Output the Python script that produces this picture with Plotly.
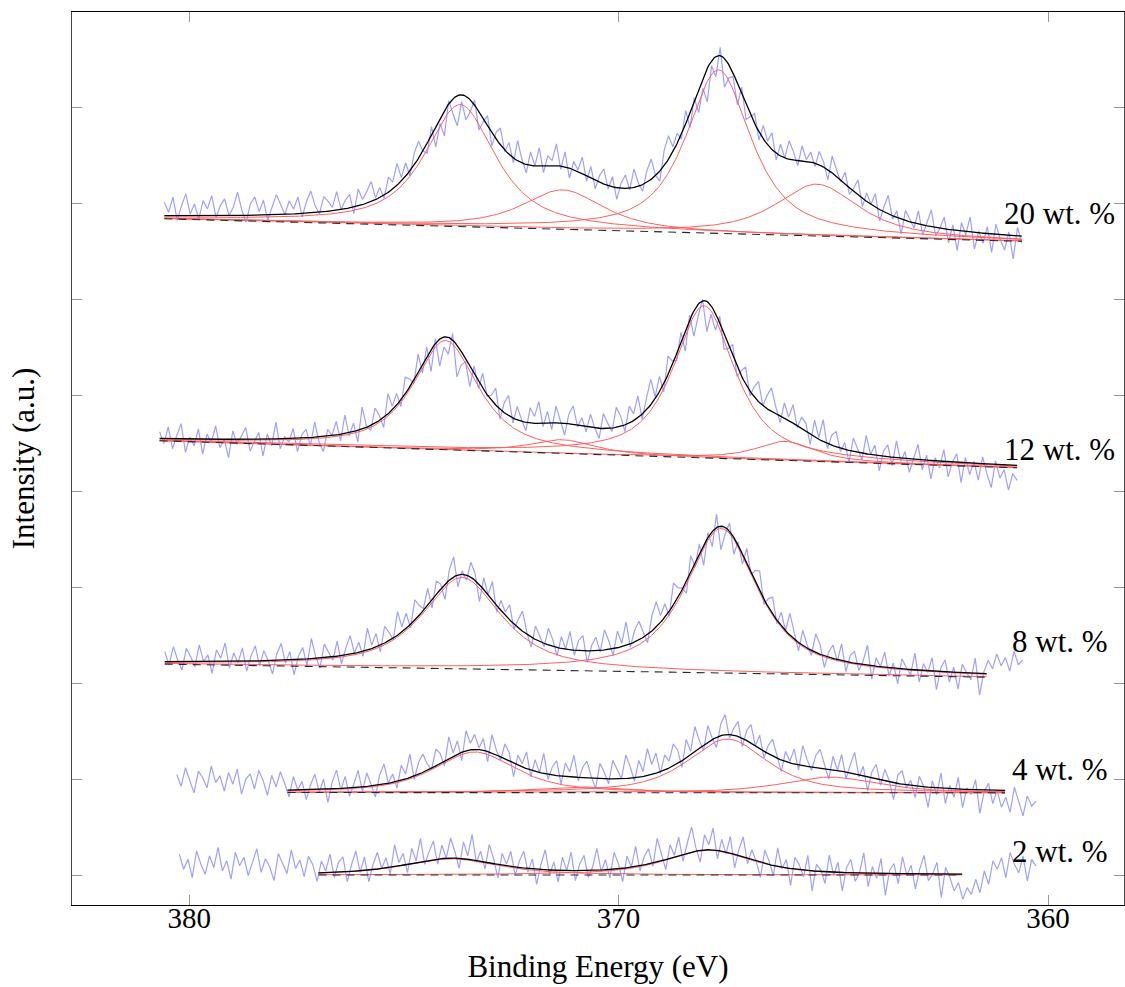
import numpy as np
import plotly.graph_objects as go

# ---------------- data ----------------
LABELS = ["20 wt. %", "12 wt. %", "8 wt. %", "4 wt. %", "2 wt. %"]

# binding-energy span of the measured (raw) spectra, eV
RAW_START = [380.58, 380.69, 380.57, 380.29, 380.23]
RAW_END = [360.61, 360.72, 360.59, 360.28, 360.28]
# span of the fitted region, eV
FIT_START = [380.58, 380.69, 380.57, 377.71, 376.99]
FIT_END = [360.61, 360.72, 361.43, 361.00, 362.00]
# linear background at the two ends of the fit (a.u., stacked offsets)
BASE_LEFT = [6.843, 4.529, 2.199, 0.860, 0.000]
BASE_RIGHT = [6.608, 4.247, 2.063, 0.857, 0.000]
# Lorentzian fraction of the pseudo-Voigt components
MIX = [0.8, 0.8, 0.8, 0.7, 0.7]

# fitted components per spectrum: centre (eV), height (a.u.), FWHM (eV)
PEAK_CENTER = [
    [373.69, 371.30, 367.675, 365.38],
    [374.03, 371.31, 368.01, 366.12],
    [373.65, 367.61],
    [373.35, 370.90, 367.47, 365.08],
    [373.90, 367.90],
]
PEAK_HEIGHT = [
    [1.272, 0.411, 1.705, 0.540],
    [1.139, 0.143, 1.586, 0.199],
    [0.953, 1.506],
    [0.424, 0.060, 0.560, 0.164],
    [0.169, 0.258],
]
PEAK_FWHM = [
    [1.95, 2.25, 1.80, 2.30],
    [1.80, 1.80, 1.70, 1.60],
    [2.20, 2.00],
    [2.25, 2.50, 2.20, 2.60],
    [2.60, 2.40],
]

# measured-minus-fit residuals of the raw spectra (counts), sampled every ~0.1 eV
NOISE_SCALE = 0.0175
RESID_20 = [8, 2, 11, -3, 6, 13, 1, 7, -2, 9, 4, 12, -1, 6, 10, 0, 5, 14, 3, -4,
            7, 11, 2, 9, -3, 5, 12, 6, 0, 8, 3, 10, -2, 7, 13, 4, -1, 9, 6, 2,
            11, 0, 5, 8, -4, 10, 3, 7, 12, 1, 6, -2, 9, 4, 13, 2, 8, -3, 7, 10,
            0, -6, 5, -12, -3, -15, 2, -9, -18, -4, -14, -7, 3, -11, -2, 6, -8, 4, 10, -1,
            7, -3, 12, 2, -5, 8, 0, 11, -4, 6, 3, 13, -2, 9, -6, 5, 1, 10, -3, 7,
            -5, 4, 9, -2, 6, -7, 3, 8, -1, 11, 2, -4, 7, 12, 0, -6, 9, 14, 3, 6,
            -3, 8, -9, 2, -14, -6, -20, -3, -12, 5, -17, -8, -2, -13, 4, -9, -1, 6, -5, 8,
            2, 10, -4, 7, 0, 11, 5, -3, 9, 1, 6, -2, 8, 3, -6, 10, 4, -1, 7, -4,
            2, 9, -5, 5, 0, 8, -7, 3, 11, -2, 4, -9, 6, 1, -3, 8, -6, 2, 10, -5,
            0, 7, -8, 3, -12, 5, -2, 9, -10, 1, -6, 4, -11, 6, -3, -9, 2, -14, 5, -4]
RESID_12 = [4, -3, 7, -6, 2, 9, -8, 1, -4, 6, -9, 3, -2, 8, -5, 0, -11, 5, -3, 2,
            7, -7, -1, 4, -10, 3, -4, 10, -6, 1, -2, 6, -8, 2, 5, -5, 9, -3, -9, 4,
            0, 8, -4, 11, -2, 5, -7, 13, 1, -3, 9, 3, -6, 12, 2, 7, -4, 10, 5, -2,
            11, -5, 6, -13, 3, -16, -6, -10, 4, -19, -8, -2, -12, 5, -4, 9, -1, 3, 10, -6,
            6, 12, -3, 8, 1, -5, 9, 4, 13, -2, 7, -4, 10, 2, -7, 6, 11, -1, 5, -3,
            8, 0, -6, 9, 3, -2, 12, 6, -4, 10, 4, 13, -3, 7, 15, 1, 9, -5, 11, 2,
            -4, 6, -12, 3, -15, -7, 1, -18, -5, -10, 4, -9, -2, 7, -6, 3, 10, -3, 6, 12,
            0, 8, 14, 4, -4, 9, 2, 11, -1, 7, 5, -6, 10, 1, 13, -3, 6, 9, -2, 4,
            -7, 8, 2, -4, 11, 0, 6, -9, 3, 7, -5, 10, -2, 4, -8, 1, 9, -6, 3, -11,
            2, -4, 7, -9, 0, 5, -12, 3, -7, 1, -10, 4, -6, -14, 2, -8, -3, -15, -5, -9]
RESID_8 = [6, -2, 9, 1, -5, 8, 3, -3, 10, 0, 4, -7, 7, 2, 11, -4, 5, -1, 8, -6,
           3, 9, -3, 6, 0, -8, 4, 10, -2, 5, -9, 2, 7, -4, 12, 1, -6, 8, 3, -2,
           9, -5, 4, 11, 0, 6, -3, 13, 2, 8, -4, 10, 5, -1, 14, 3, 9, -2, 12, 6,
           1, 10, -5, 8, 3, -9, 6, 12, -7, 2, -3, 9, 4, -10, 7, 0, 11, -4, 6, 2,
           9, -3, 5, 12, 1, -6, 8, 3, -2, 10, 4, -5, 7, 0, 11, -3, 6, 9, -7, 3,
           8, -1, 12, 5, -4, 10, 2, 14, -2, 7, 11, 3, -5, 9, 15, 4, 8, -3, 13, 6,
           1, -7, 10, -2, 6, -12, 3, -9, 8, -14, -4, 5, -10, 2, -6, 9, -1, 7, 12, -3,
           5, 10, -2, 8, 0, 13, 4, -5, 9, 2, -3, 11, 6, -7, 3, 8, -1, 10, -6, 4,
           7, -4, 2, 12, -8, 5, 0, 9, -5, 3, -9, 6, 1, -3, 10, -7, 4, -1, 8, -11,
           2, 7, -6, 3, -10, 5, 0, -4, 9, -13, 1, 8, 3, 12, 5, 10, 2, 14, 6, 9]
RESID_4 = [10, 3, 14, 6, -1, 12, 8, 2, 15, 5, 9, 0, 11, 4, 13, -2, 7, 10, 1, 12,
           6, -3, 9, 2, 11, 4, -4, 8, 0, 5, -6, 3, 9, -2, 6, -8, 4, 11, -1, 7,
           -5, 2, 10, -3, 8, 1, -7, 6, 12, 0, 5, -4, 9, 3, 14, -2, 7, 11, 4, -1,
           10, 6, -3, 13, 2, 8, -5, 12, 4, 9, 1, 7, -6, 11, 3, -2, 9, 5, -8, 6,
           2, 10, -4, 7, 0, 12, -3, 5, 9, -5, 8, 3, 13, -2, 6, 10, 1, -6, 9, 4,
           -3, 11, 5, 0, 14, 7, -2, 10, 3, 16, 6, 12, -1, 9, 4, 13, 8, -4, 11, 2,
           15, 5, -3, 10, 1, -6, 7, 12, -2, 4, 9, -5, 6, 11, 0, 8, -4, 5, 10, 2,
           -7, 6, 1, 9, -3, 12, 4, -2, 7, 11, 3, -6, 8, 0, 10, -4, 5, 13, -1, 6,
           -8, 4, 9, -3, 7, 1, -10, 5, 8, -2, 3, -7, 6, 0, -12, 4, -4, 9, -9, 2,
           -5, 7, -11, 1, -3, 6, -14, -1, 4, -8, 0, -10, -4, -13, 2, -7, -15, -3, -9, -6]
RESID_2 = [12, 3, 9, -2, 14, 6, 0, 11, 4, 16, 2, 8, -3, 13, 5, 10, -1, 7, 15, 1,
           9, 4, -4, 12, 6, 0, 14, 3, 8, -2, 10, 5, -5, 7, 1, 11, -3, 6, 9, -6,
           4, 12, -1, 8, -7, 3, 10, 0, 6, -4, 13, 2, 7, -5, 9, 1, 14, -2, 5, 11,
           -3, 8, 0, 12, 4, -6, 10, 2, 15, -1, 6, -4, 11, 3, -8, 7, 1, 9, -5, 4,
           10, -2, 6, -9, 3, 12, -3, 5, -7, 8, 0, 11, -6, 4, 9, -4, 2, 13, -1, 6,
           -5, 10, 3, -8, 7, 0, 12, -3, 5, 9, -2, 14, 4, -6, 8, 1, 11, -4, 6, 15,
           2, -7, 9, 3, 13, -5, 7, -1, 10, -8, 4, 12, -3, 6, 0, -9, 8, 2, -6, 11,
           -1, 5, -10, 7, 3, -4, 9, -12, 4, 1, -7, 10, -2, 6, -11, 3, 8, -5, 0, 12,
           -8, 4, -3, 9, -13, 2, 6, -6, 10, -1, 5, -9, 3, 11, -4, 0, 7, -14, 4, -2,
           -10, -5, -15, -8, -12, -3, -11, 2, -6, 8, 3, 10, -2, 13, 6, 1, 11, -4, 9, 5]
RESIDUALS = [RESID_20, RESID_12, RESID_8, RESID_4, RESID_2]

X_TICKS = [380, 370, 360]
Y_TICKS = [0, 1, 2, 3, 4, 5, 6, 7, 8, 9]

# ---------------- layout constants ----------------
X_RANGE = [382.73, 358.23]
Y_RANGE = [-0.3127, 8.9995]
LABEL_X = [358.39, 358.39, 358.55, 358.55, 358.55]
LABEL_Y = [6.898, 4.435, 2.437, 1.100, 0.248]
FONT = "Liberation Serif"

RAW_COLOR = "rgb(160,160,255)"
COMP_COLOR = "rgb(255,95,95)"


def pseudo_voigt(x, c, h, w, eta):
    d = (x - c) / w
    return h * (eta / (1.0 + 4.0 * d * d) + (1.0 - eta) * np.exp(-4.0 * np.log(2.0) * d * d))


fig = go.Figure()

for s in range(len(LABELS)):
    fs, fe = FIT_START[s], FIT_END[s]
    bl, br = BASE_LEFT[s], BASE_RIGHT[s]

    def background(x):
        return bl + (br - bl) * (x - fs) / (fe - fs)

    def model(x):
        y = background(x)
        for c, h, w in zip(PEAK_CENTER[s], PEAK_HEIGHT[s], PEAK_FWHM[s]):
            y = y + pseudo_voigt(x, c, h, w, MIX[s])
        return y

    # raw spectrum
    res = np.array(RESIDUALS[s], dtype=float)
    xr = np.linspace(RAW_START[s], RAW_END[s], len(res))
    yr = model(xr) + res * NOISE_SCALE
    fig.add_trace(go.Scatter(x=xr, y=yr, mode="lines",
                             line=dict(color=RAW_COLOR, width=1.2),
                             hoverinfo="skip", showlegend=False))

    xf = np.linspace(fs, fe, 700)
    # linear background (drawn on the companion x axis, which has the same range)
    fig.add_trace(go.Scatter(x=[fs, fe], y=[bl, br], mode="lines", xaxis="x2", yaxis="y",
                             line=dict(color="rgb(40,40,40)", width=1.1, dash="8px,6px"),
                             hoverinfo="skip", showlegend=False))
    # fitted components
    for c, h, w in zip(PEAK_CENTER[s], PEAK_HEIGHT[s], PEAK_FWHM[s]):
        fig.add_trace(go.Scatter(x=xf, y=background(xf) + pseudo_voigt(xf, c, h, w, MIX[s]),
                                 mode="lines", line=dict(color=COMP_COLOR, width=1.0),
                                 hoverinfo="skip", showlegend=False))
    # fit envelope
    fig.add_trace(go.Scatter(x=xf, y=model(xf), mode="lines",
                             line=dict(color="black", width=1.3),
                             hoverinfo="skip", showlegend=False))

    fig.add_annotation(x=LABEL_X[s], y=LABEL_Y[s], xref="x", yref="y",
                       text=LABELS[s], showarrow=False, xanchor="right", yanchor="middle",
                       font=dict(family=FONT, size=31, color="black"))

fig.update_layout(
    width=1125, height=987,
    margin=dict(l=72, r=1, t=12, b=82, autoexpand=False),
    paper_bgcolor="white", plot_bgcolor="white",
    font=dict(family=FONT, size=28, color="black"),
    showlegend=False,
    xaxis=dict(
        range=X_RANGE, tickvals=X_TICKS, showticklabels=False,
        ticks="inside", ticklen=10, tickcolor="rgb(150,150,150)", tickwidth=1,
        showline=True, linecolor="black", linewidth=1, mirror="ticks",
        showgrid=False, zeroline=False,
    ),
    # label-only companion axis a few pixels above the frame, so the tick
    # labels hug the bottom edge as in the reference
    xaxis2=dict(
        overlaying="x", anchor="free", position=0.008, side="bottom",
        range=X_RANGE, tickvals=X_TICKS, ticktext=[str(v) for v in X_TICKS],
        ticks="", showline=False, showgrid=False, zeroline=False,
        tickfont=dict(family=FONT, size=29),
        title=dict(text="Binding Energy (eV)", font=dict(family=FONT, size=31), standoff=22),
    ),
    yaxis=dict(
        range=Y_RANGE, tickvals=Y_TICKS, showticklabels=False,
        ticks="inside", ticklen=10, tickcolor="rgb(150,150,150)", tickwidth=1,
        showline=True, linecolor="rgb(70,70,70)", linewidth=1, mirror="ticks",
        showgrid=False, zeroline=False,
        title=dict(text="Intensity (a.u.)", font=dict(family=FONT, size=31), standoff=27),
    ),
)

fig.write_html("out.html")
